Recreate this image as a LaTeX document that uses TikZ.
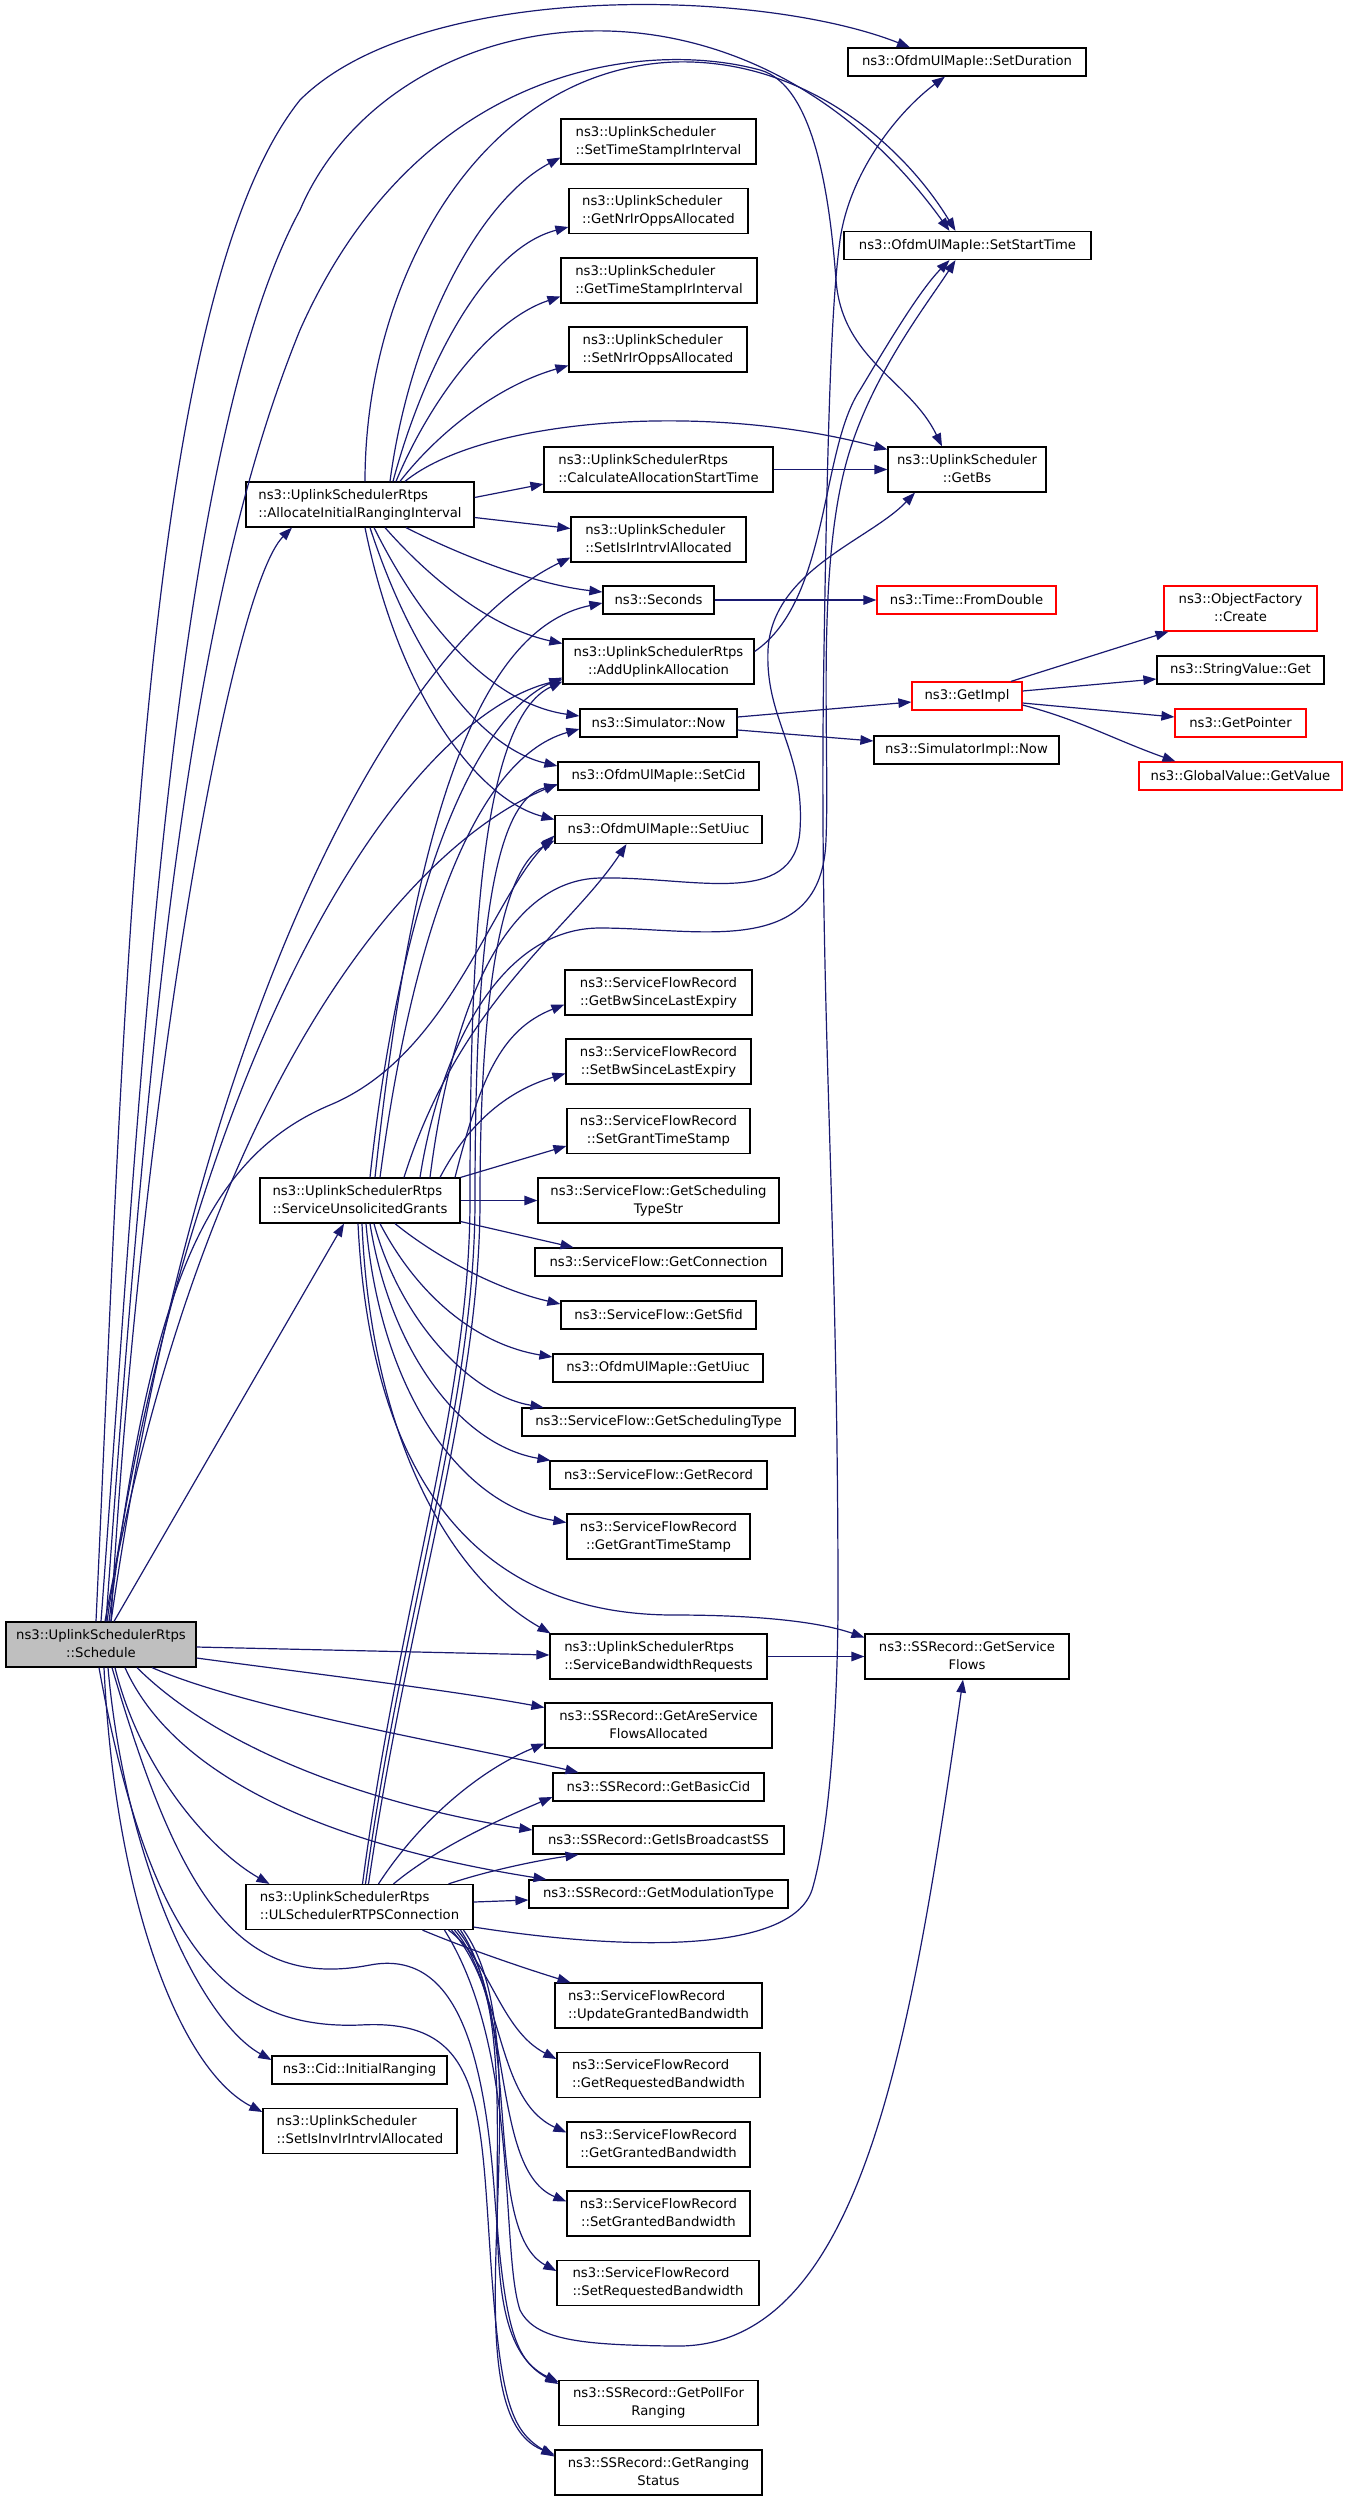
\documentclass[tikz,border=0pt]{standalone}
\usepackage{fontspec}
\setmainfont{DejaVu Sans}
\usetikzlibrary{arrows.meta}

\definecolor{edgeblue}{HTML}{191970}
\definecolor{rootgray}{HTML}{BFBFBF}
\newcommand{\fnfont}{\fontsize{13.2}{18}\selectfont}
\newcommand{\twoline}[2]{\begin{tabular}{@{}l@{}}#1\\\multicolumn{1}{@{}c@{}}{#2}\end{tabular}}

\tikzset{
  fnbox/.style={draw=black, line width=1.2pt, fill=white, inner sep=0pt, font=\fnfont},
  truncbox/.style={fnbox, draw=red},
  rootbox/.style={fnbox, fill=rootgray},
  boxone/.style={minimum height=28pt},
  boxtwo/.style={minimum height=45pt},
  callarrow/.style={draw=edgeblue, line width=1.2pt, -{Triangle[length=13pt,width=9.5pt]}},
}

\begin{document}
\begin{tikzpicture}[x=1pt,y=-1pt]
\useasboundingbox (0,0) rectangle (1347,2501);
\fill[white] (0,0) rectangle (1347,2501);

% callers
\node[rootbox, boxtwo, minimum width=190pt] (sched) at (101,1644.5) {\twoline{ns3::UplinkSchedulerRtps}{::Schedule}};
\node[fnbox, boxtwo, minimum width=228pt] (alloc) at (360,504.5) {\twoline{ns3::UplinkSchedulerRtps}{::AllocateInitialRangingInterval}};
\node[fnbox, boxtwo, minimum width=200pt] (sug) at (360,1200.5) {\twoline{ns3::UplinkSchedulerRtps}{::ServiceUnsolicitedGrants}};
\node[fnbox, boxtwo, minimum width=227pt] (ulrtps) at (359.5,1907) {\twoline{ns3::UplinkSchedulerRtps}{::ULSchedulerRTPSConnection}};
\node[fnbox, boxone, minimum width=175pt] (cidir) at (359.5,2070) {ns3::Cid::InitialRanging};
\node[fnbox, boxtwo, minimum width=194pt] (setinv) at (360,2131) {\twoline{ns3::UplinkScheduler}{::SetIsInvIrIntrvlAllocated}};

% middle column
\node[fnbox, boxtwo, minimum width=195pt] (setts) at (658.5,141.5) {\twoline{ns3::UplinkScheduler}{::SetTimeStampIrInterval}};
\node[fnbox, boxtwo, minimum width=179pt] (getnr) at (658.5,211) {\twoline{ns3::UplinkScheduler}{::GetNrIrOppsAllocated}};
\node[fnbox, boxtwo, minimum width=196pt] (getts) at (659,280.5) {\twoline{ns3::UplinkScheduler}{::GetTimeStampIrInterval}};
\node[fnbox, boxtwo, minimum width=178pt] (setnr) at (658,349.5) {\twoline{ns3::UplinkScheduler}{::SetNrIrOppsAllocated}};
\node[fnbox, boxtwo, minimum width=229pt] (calc) at (658.5,469.5) {\twoline{ns3::UplinkSchedulerRtps}{::CalculateAllocationStartTime}};
\node[fnbox, boxtwo, minimum width=175pt] (setisir) at (658.5,539.5) {\twoline{ns3::UplinkScheduler}{::SetIsIrIntrvlAllocated}};
\node[fnbox, boxone, minimum width=111pt] (seconds) at (658.5,600) {ns3::Seconds};
\node[fnbox, boxtwo, minimum width=191pt] (addul) at (658.5,661.5) {\twoline{ns3::UplinkSchedulerRtps}{::AddUplinkAllocation}};
\node[fnbox, boxone, minimum width=157pt] (simnow) at (658.5,723) {ns3::Simulator::Now};
\node[fnbox, boxone, minimum width=201pt] (setcid) at (658.5,776) {ns3::OfdmUlMapIe::SetCid};
\node[fnbox, boxone, minimum width=207pt] (setuiuc) at (658.5,829.5) {ns3::OfdmUlMapIe::SetUiuc};
\node[fnbox, boxtwo, minimum width=187pt] (getbwle) at (658.5,992.5) {\twoline{ns3::ServiceFlowRecord}{::GetBwSinceLastExpiry}};
\node[fnbox, boxtwo, minimum width=185pt] (setbwle) at (658.5,1061.5) {\twoline{ns3::ServiceFlowRecord}{::SetBwSinceLastExpiry}};
\node[fnbox, boxtwo, minimum width=183pt] (setgts) at (658.5,1131) {\twoline{ns3::ServiceFlowRecord}{::SetGrantTimeStamp}};
\node[fnbox, boxtwo, minimum width=241pt] (gsts) at (658.5,1200.5) {\twoline{ns3::ServiceFlow::GetScheduling}{TypeStr}};
\node[fnbox, boxone, minimum width=247pt] (getconn) at (658.5,1262) {ns3::ServiceFlow::GetConnection};
\node[fnbox, boxone, minimum width=195pt] (getsfid) at (658.5,1315) {ns3::ServiceFlow::GetSfid};
\node[fnbox, boxone, minimum width=210pt] (getuiuc) at (658,1368) {ns3::OfdmUlMapIe::GetUiuc};
\node[fnbox, boxone, minimum width=273pt] (getst) at (658.5,1422) {ns3::ServiceFlow::GetSchedulingType};
\node[fnbox, boxone, minimum width=217pt] (getrec) at (658.5,1475) {ns3::ServiceFlow::GetRecord};
\node[fnbox, boxtwo, minimum width=183pt] (getgts) at (658.5,1536.5) {\twoline{ns3::ServiceFlowRecord}{::GetGrantTimeStamp}};
\node[fnbox, boxtwo, minimum width=217pt] (sbr) at (658.5,1656.5) {\twoline{ns3::UplinkSchedulerRtps}{::ServiceBandwidthRequests}};
\node[fnbox, boxtwo, minimum width=227pt] (aresf) at (658.5,1725.5) {\twoline{ns3::SSRecord::GetAreService}{FlowsAllocated}};
\node[fnbox, boxone, minimum width=211pt] (basiccid) at (658.5,1787) {ns3::SSRecord::GetBasicCid};
\node[fnbox, boxone, minimum width=251pt] (isbcast) at (658.5,1840) {ns3::SSRecord::GetIsBroadcastSS};
\node[fnbox, boxone, minimum width=259pt] (modtype) at (658.5,1894) {ns3::SSRecord::GetModulationType};
\node[fnbox, boxtwo, minimum width=207pt] (updgb) at (658.5,2005.5) {\twoline{ns3::ServiceFlowRecord}{::UpdateGrantedBandwidth}};
\node[fnbox, boxtwo, minimum width=203pt] (getrb) at (658.5,2075) {\twoline{ns3::ServiceFlowRecord}{::GetRequestedBandwidth}};
\node[fnbox, boxtwo, minimum width=183pt] (getgb) at (658.5,2144.5) {\twoline{ns3::ServiceFlowRecord}{::GetGrantedBandwidth}};
\node[fnbox, boxtwo, minimum width=183pt] (setgb) at (658.5,2213.5) {\twoline{ns3::ServiceFlowRecord}{::SetGrantedBandwidth}};
\node[fnbox, boxtwo, minimum width=202pt] (setrb) at (658,2283) {\twoline{ns3::ServiceFlowRecord}{::SetRequestedBandwidth}};
\node[fnbox, boxtwo, minimum width=199pt] (pollr) at (658.5,2403) {\twoline{ns3::SSRecord::GetPollFor}{Ranging}};
\node[fnbox, boxtwo, minimum width=207pt] (rangst) at (658.5,2472.5) {\twoline{ns3::SSRecord::GetRanging}{Status}};

% right columns
\node[fnbox, boxone, minimum width=238pt] (setdur) at (967,62) {ns3::OfdmUlMapIe::SetDuration};
\node[fnbox, boxone, minimum width=247pt] (setst) at (967.5,245.5) {ns3::OfdmUlMapIe::SetStartTime};
\node[fnbox, boxtwo, minimum width=158pt] (getbs) at (967,469.5) {\twoline{ns3::UplinkScheduler}{::GetBs}};
\node[truncbox, boxone, minimum width=179pt] (fromdbl) at (966.5,600) {ns3::Time::FromDouble};
\node[truncbox, boxone, minimum width=110pt] (getimpl) at (967,696) {ns3::GetImpl};
\node[fnbox, boxone, minimum width=185pt] (simimpl) at (966.5,750) {ns3::SimulatorImpl::Now};
\node[fnbox, boxtwo, minimum width=204pt] (getsf) at (967,1656.5) {\twoline{ns3::SSRecord::GetService}{Flows}};
\node[truncbox, boxtwo, minimum width=153pt] (create) at (1240.5,608.5) {\twoline{ns3::ObjectFactory}{::Create}};
\node[fnbox, boxone, minimum width=167pt] (strget) at (1240.5,670) {ns3::StringValue::Get};
\node[truncbox, boxone, minimum width=131pt] (getptr) at (1240.5,723) {ns3::GetPointer};
\node[truncbox, boxone, minimum width=203pt] (gvget) at (1240.5,776) {ns3::GlobalValue::GetValue};

% calls from Schedule
\draw[callarrow] ([xshift=-5pt]sched.north) .. controls (125,1000) and (140,300) .. (300,100) .. controls (420,-20) and (760,-12) .. ([xshift=-57pt]setdur.north);
\draw[callarrow] (sched.north) .. controls (140,1100) and (170,450) .. (300,210) .. controls (390,0) and (740,-60) .. ([xshift=-18pt]setst.north);
\draw[callarrow] ([xshift=5pt]sched.north) .. controls (150,1000) and (190,600) .. (300,330) .. controls (420,60) and (650,40) .. (760,70) .. controls (815,85) and (830,200) .. (836,280) .. controls (842,360) and (910,380) .. ([xshift=-25pt]getbs.north);
\draw[callarrow] ([xshift=10pt]sched.north) .. controls (140,1100) and (230,590) .. ([xshift=-68pt]alloc.south);
\draw[callarrow] ([xshift=10pt]sched.north) .. controls (200,1000) and (400,640) .. ([yshift=-18pt]setisir.west);
\draw[callarrow] ([xshift=8pt]sched.north) .. controls (150,1300) and (200,1160) .. (330,1105) .. controls (450,1055) and (490,900) .. ([yshift=-6pt]setuiuc.west);
\draw[callarrow] ([xshift=4pt]sched.north) .. controls (200,1100) and (400,850) .. ([yshift=-8pt]setcid.west);
\draw[callarrow] ([xshift=6pt]sched.north) .. controls (190,1050) and (400,720) .. ([yshift=-18pt]addul.west);
\draw[callarrow] ([xshift=13pt]sched.north) -- ([xshift=-16pt]sug.south);
\draw[callarrow] ([yshift=-2.5pt]sched.east) -- ([yshift=1.5pt]sbr.west);
\draw[callarrow] ([yshift=-13.5pt]sched.east) .. controls (300,1672) and (450,1690) .. ([yshift=18pt]aresf.west);
\draw[callarrow] ([xshift=51pt]sched.south) .. controls (250,1710) and (460,1745) .. ([xshift=-80pt]basiccid.north);
\draw[callarrow] ([xshift=36pt]sched.south) .. controls (230,1760) and (400,1810) .. ([yshift=10pt]isbcast.west);
\draw[callarrow] ([xshift=24pt]sched.south) .. controls (180,1790) and (360,1850) .. ([xshift=-112pt]modtype.north);
\draw[callarrow] ([xshift=14pt]sched.south) .. controls (140,1770) and (210,1850) .. ([xshift=-90pt]ulrtps.north);
\draw[callarrow] ([xshift=7pt]sched.south) .. controls (125,1860) and (200,2020) .. ([yshift=10pt]cidir.west);
\draw[callarrow] ([xshift=3pt]sched.south) .. controls (115,1900) and (180,2070) .. ([yshift=19pt]setinv.west);
\draw[callarrow] ([xshift=11pt]sched.south) .. controls (180,1900) and (240,1990) .. (370,1965) .. controls (460,1948) and (485,2060) .. (495,2200) .. controls (505,2330) and (515,2360) .. ([yshift=19pt]pollr.west);
\draw[callarrow] ([xshift=-2pt]sched.south) .. controls (150,1950) and (230,2030) .. (360,2025) .. controls (480,2018) and (480,2100) .. (490,2250) .. controls (500,2400) and (510,2430) .. ([yshift=16pt]rangst.west);

% calls from AllocateInitialRangingInterval
\draw[callarrow] ([xshift=30pt]alloc.north) .. controls (410,330) and (480,200) .. ([yshift=-16pt]setts.west);
\draw[callarrow] ([xshift=33pt]alloc.north) .. controls (420,380) and (480,250) .. ([yshift=-16pt]getnr.west);
\draw[callarrow] ([xshift=36pt]alloc.north) .. controls (430,400) and (490,320) .. ([yshift=-16pt]getts.west);
\draw[callarrow] ([xshift=40pt]alloc.north) .. controls (440,430) and (500,385) .. ([yshift=-16pt]setnr.west);
\draw[callarrow] ([xshift=5pt]alloc.north) .. controls (365,280) and (480,70) .. (674,62) .. controls (800,58) and (900,140) .. ([xshift=-12pt]setst.north);
\draw[callarrow] ([xshift=45pt]alloc.north) .. controls (480,420) and (700,400) .. ([yshift=20pt]getbs.west);
\draw[callarrow] ([yshift=7pt]alloc.east) -- ([yshift=-14.5pt]calc.west);
\draw[callarrow] ([yshift=-13pt]alloc.east) -- ([yshift=11pt]setisir.west);
\draw[callarrow] ([xshift=46pt]alloc.south) .. controls (470,560) and (540,585) .. ([yshift=8pt]seconds.west);
\draw[callarrow] ([xshift=25pt]alloc.south) .. controls (440,590) and (500,630) .. ([yshift=18pt]addul.west);
\draw[callarrow] ([xshift=14pt]alloc.south) .. controls (430,640) and (500,705) .. ([yshift=7pt]simnow.west);
\draw[callarrow] ([xshift=10pt]alloc.south) .. controls (420,680) and (490,750) .. ([yshift=10pt]setcid.west);
\draw[callarrow] ([xshift=5pt]alloc.south) .. controls (400,700) and (480,800) .. ([yshift=10pt]setuiuc.west);

% short calls on the right
\draw[callarrow] (calc.east) -- (getbs.west);
\draw[callarrow] (seconds.east) -- (fromdbl.west);
\draw[callarrow] ([yshift=6pt]simnow.east) -- ([yshift=-6pt]getimpl.west);
\draw[callarrow] ([yshift=-7pt]simnow.east) -- ([yshift=9pt]simimpl.west);
\draw[callarrow] ([xshift=44pt]getimpl.north) -- ([xshift=-72pt]create.south);
\draw[callarrow] ([yshift=5pt]getimpl.east) -- ([yshift=-9pt]strget.west);
\draw[callarrow] ([yshift=-7pt]getimpl.east) -- ([yshift=6pt]getptr.west);
\draw[callarrow] ([yshift=-9pt]getimpl.east) .. controls (1080,720) and (1115,740) .. ([xshift=-65pt]gvget.north);
\draw[callarrow] ([yshift=10pt]addul.east) .. controls (830,600) and (820,450) .. (860,390) .. controls (890,340) and (920,290) .. ([xshift=-18pt]setst.south);
\draw[callarrow] (sbr.east) -- (getsf.west);

% calls from ServiceUnsolicitedGrants
\draw[callarrow] ([xshift=95pt]sug.north) .. controls (480,1080) and (500,1030) .. ([yshift=-12pt]getbwle.west);
\draw[callarrow] ([xshift=80pt]sug.north) .. controls (470,1120) and (510,1090) .. ([yshift=-12pt]setbwle.west);
\draw[callarrow] (sug.north east) -- ([yshift=-15pt]setgts.west);
\draw[callarrow] (sug.east) -- (gsts.west);
\draw[callarrow] ([yshift=-21pt]sug.east) -- ([xshift=-85pt]getconn.north);
\draw[callarrow] ([xshift=35pt]sug.south) .. controls (440,1260) and (500,1290) .. ([yshift=11pt]getsfid.west);
\draw[callarrow] ([xshift=20pt]sug.south) .. controls (420,1300) and (480,1345) .. ([yshift=11pt]getuiuc.west);
\draw[callarrow] ([xshift=14pt]sug.south) .. controls (400,1320) and (470,1395) .. ([xshift=-115pt]getst.north);
\draw[callarrow] ([xshift=10pt]sug.south) .. controls (390,1350) and (460,1445) .. ([xshift=-108pt]getrec.north);
\draw[callarrow] ([xshift=6pt]sug.south) .. controls (380,1390) and (460,1505) .. ([yshift=14pt]getgts.west);
\draw[callarrow] ([xshift=2pt]sug.south) .. controls (370,1420) and (440,1570) .. ([xshift=-108pt]sbr.north);
\draw[callarrow] ([xshift=-2pt]sug.south) .. controls (370,1470) and (470,1615) .. (674,1615) .. controls (760,1615) and (820,1622) .. ([yshift=19pt]getsf.west);
\draw[callarrow] ([xshift=15pt]sug.north) .. controls (410,850) and (470,630) .. ([yshift=-3pt]seconds.west);
\draw[callarrow] ([xshift=20pt]sug.north) .. controls (410,950) and (470,760) .. ([yshift=-6pt]simnow.west);
\draw[callarrow] ([xshift=10pt]sug.north) .. controls (400,900) and (470,720) .. ([yshift=-16pt]addul.west);
\draw[callarrow] ([xshift=44pt]sug.north) .. controls (460,1000) and (570,930) .. ([xshift=-32pt]setuiuc.south);
\draw[callarrow] ([xshift=70pt]sug.north) .. controls (450,1020) and (500,880) .. (600,878) .. controls (690,876) and (795,910) .. (800,830) .. controls (805,750) and (765,720) .. (768,650) .. controls (772,570) and (870,540) .. ([xshift=-52pt]getbs.south);
\draw[callarrow] ([xshift=60pt]sug.north) .. controls (440,1050) and (500,928) .. (600,928) .. controls (700,928) and (822,960) .. (826,840) .. controls (830,740) and (815,560) .. (850,450) .. controls (875,370) and (930,300) .. ([xshift=-12pt]setst.south);

% calls from ULSchedulerRTPSConnection
\draw[callarrow] ([xshift=3pt]ulrtps.north) .. controls (400,1600) and (470,1400) .. (470,1200) .. controls (470,950) and (480,720) .. ([yshift=-20pt]addul.west);
\draw[callarrow] ([xshift=6pt]ulrtps.north) .. controls (405,1600) and (475,1400) .. (475,1200) .. controls (475,960) and (490,800) .. ([yshift=-9pt]setcid.west);
\draw[callarrow] ([xshift=9pt]ulrtps.north) .. controls (410,1600) and (480,1400) .. (480,1200) .. controls (480,1000) and (500,870) .. ([yshift=-11pt]setuiuc.west);
\draw[callarrow] ([xshift=19pt]ulrtps.north) .. controls (420,1820) and (480,1770) .. ([yshift=-18pt]aresf.west);
\draw[callarrow] ([xshift=34pt]ulrtps.north) .. controls (440,1845) and (510,1815) .. ([yshift=-10pt]basiccid.west);
\draw[callarrow] ([xshift=89pt]ulrtps.north) .. controls (490,1870) and (540,1860) .. ([xshift=-80pt]isbcast.south);
\draw[callarrow] ([yshift=5pt]ulrtps.east) -- ([yshift=-6pt]modtype.west);
\draw[callarrow] ([yshift=-20pt]ulrtps.east) .. controls (620,1950) and (790,1955) .. (812,1890) .. controls (830,1830) and (838,1700) .. (838,1600) .. controls (838,1200) and (818,1000) .. (824,650) .. controls (828,400) and (832,300) .. (840,240) .. controls (850,170) and (900,110) .. ([xshift=-22pt]setdur.south);
\draw[callarrow] ([xshift=85pt]ulrtps.south) .. controls (520,2050) and (500,2250) .. (520,2310) .. controls (535,2340) and (580,2345) .. (674,2346) .. controls (860,2350) and (910,2050) .. ([xshift=-4pt]getsf.south);
\draw[callarrow] ([xshift=63pt]ulrtps.south) .. controls (470,1950) and (530,1970) .. ([xshift=-88pt]updgb.north);
\draw[callarrow] ([xshift=89pt]ulrtps.south) .. controls (490,1960) and (500,2030) .. ([yshift=16pt]getrb.west);
\draw[callarrow] ([xshift=92pt]ulrtps.south) .. controls (505,1990) and (495,2100) .. ([yshift=12pt]getgb.west);
\draw[callarrow] ([xshift=95pt]ulrtps.south) .. controls (515,2000) and (490,2170) .. ([yshift=12pt]setgb.west);
\draw[callarrow] ([xshift=98pt]ulrtps.south) .. controls (525,2010) and (480,2230) .. ([yshift=12pt]setrb.west);
\draw[callarrow] ([xshift=101pt]ulrtps.south) .. controls (540,2050) and (450,2330) .. ([yshift=21pt]pollr.west);
\draw[callarrow] ([xshift=104pt]ulrtps.south) .. controls (550,2050) and (440,2410) .. ([yshift=18pt]rangst.west);
\end{tikzpicture}
\end{document}
